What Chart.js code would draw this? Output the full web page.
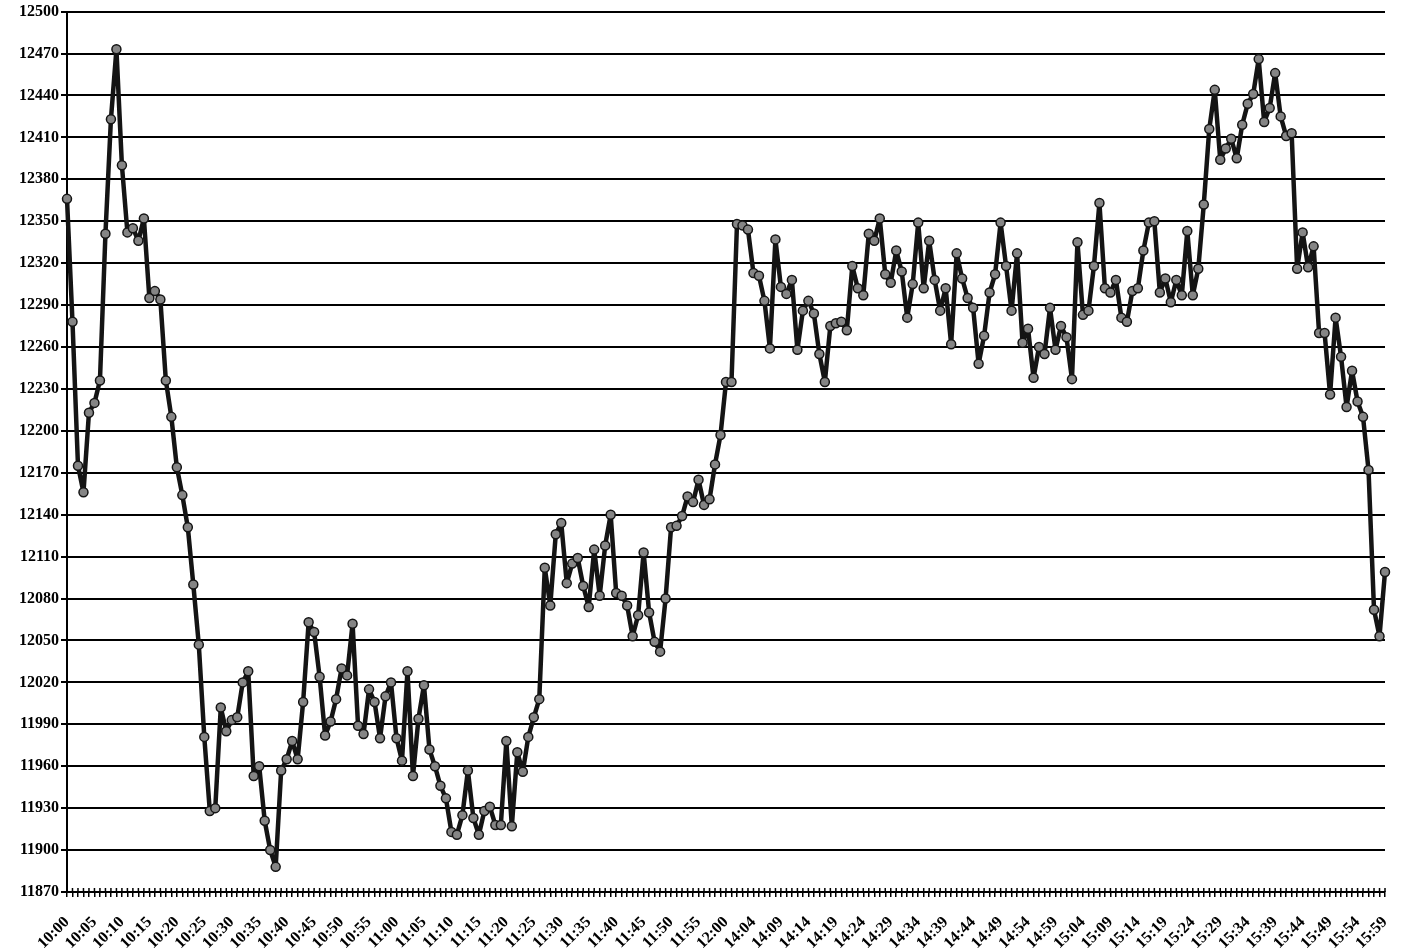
<!DOCTYPE html>
<html>
<head>
<meta charset="utf-8">
<script src="https://cdn.jsdelivr.net/npm/chart.js@4.4.0/dist/chart.umd.min.js"></script>
<style>
  html, body { margin: 0; padding: 0; background: #fff; }
  #wrap { width: 1401px; height: 950px; }
</style>
</head>
<body>
<div id="wrap"><canvas id="cotacao"></canvas></div>
<script>

// morning session 10:00 - 12:00, one value per minute
var valores_manha = [
    12366, 12278, 12175, 12156, 12213, 12220, 12236, 12341, 12423, 12473,
    12390, 12342, 12345, 12336, 12352, 12295, 12300, 12294, 12236, 12210,
    12174, 12154, 12131, 12090, 12047, 11981, 11928, 11930, 12002, 11985,
    11993, 11995, 12020, 12028, 11953, 11960, 11921, 11900, 11888, 11957,
    11965, 11978, 11965, 12006, 12063, 12056, 12024, 11982, 11992, 12008,
    12030, 12025, 12062, 11989, 11983, 12015, 12006, 11980, 12010, 12020,
    11980, 11964, 12028, 11953, 11994, 12018, 11972, 11960, 11946, 11937,
    11913, 11911, 11925, 11957, 11923, 11911, 11928, 11931, 11918, 11918,
    11978, 11917, 11970, 11956, 11981, 11995, 12008, 12102, 12075, 12126,
    12134, 12091, 12105, 12109, 12089, 12074, 12115, 12082, 12118, 12140,
    12084, 12082, 12075, 12053, 12068, 12113, 12070, 12049, 12042, 12080,
    12131, 12132, 12139, 12153, 12149, 12165, 12147, 12151, 12176, 12197,
    12235
];

// afternoon session 14:00 - 15:59
var valores_tarde = [
    12235, 12348, 12347, 12344, 12313, 12311, 12293, 12259, 12337,
    12303, 12298, 12308, 12258, 12286, 12293, 12284, 12255, 12235, 12275,
    12277, 12278, 12272, 12318, 12302, 12297, 12341, 12336, 12352, 12312,
    12306, 12329, 12314, 12281, 12305, 12349, 12302, 12336, 12308, 12286,
    12302, 12262, 12327, 12309, 12295, 12288, 12248, 12268, 12299, 12312,
    12349, 12318, 12286, 12327, 12263, 12273, 12238, 12260, 12255, 12288,
    12258, 12275, 12267, 12237, 12335, 12283, 12286, 12318, 12363, 12302,
    12299, 12308, 12281, 12278, 12300, 12302, 12329, 12349, 12350, 12299,
    12309, 12292, 12308, 12297, 12343, 12297, 12316, 12362, 12416, 12444,
    12394, 12402, 12409, 12395, 12419, 12434, 12441, 12466, 12421, 12431,
    12456, 12425, 12411, 12413, 12316, 12342, 12317, 12332, 12270, 12270,
    12226, 12281, 12253, 12217, 12243, 12221, 12210, 12172, 12072, 12053,
    12099
];

// labels written under the axis
var rotulos_x = [
    '10:00', '10:05', '10:10', '10:15', '10:20', '10:25', '10:30', '10:35', '10:40',
    '10:45', '10:50', '10:55', '11:00', '11:05', '11:10', '11:15', '11:20', '11:25',
    '11:30', '11:35', '11:40', '11:45', '11:50', '11:55', '12:00',
    '14:04', '14:09', '14:14', '14:19', '14:24', '14:29', '14:34', '14:39', '14:44',
    '14:49', '14:54', '14:59', '15:04', '15:09', '15:14', '15:19', '15:24', '15:29',
    '15:34', '15:39', '15:44', '15:49', '15:54', '15:59'
];

var eixo_y_min = 11870;
var eixo_y_max = 12500;
var eixo_y_passo = 30;

function horarios(hora, minuto, quantidade) {
    var lista = [];
    for (var k = 0; k < quantidade; k++) {
        var m = hora * 60 + minuto + k;
        lista.push(Math.floor(m / 60) + ':' + String(m % 60).padStart(2, '0'));
    }
    return lista;
}

var categorias = horarios(10, 0, valores_manha.length).concat(horarios(14, 0, valores_tarde.length));
var serie = valores_manha.concat(valores_tarde);

// upper half of the cross tick marks on the x axis
const marcas_cruzadas = {
    id: 'marcas_cruzadas',
    beforeDatasetsDraw(chart) {
        const ctx = chart.ctx;
        const x = chart.scales.x;
        ctx.save();
        ctx.strokeStyle = '#000';
        ctx.lineWidth = 1.5;
        ctx.beginPath();
        for (let i = 0; i < x.ticks.length; i++) {
            const px = x.getPixelForTick(i);
            ctx.moveTo(px, x.top - 4);
            ctx.lineTo(px, x.top);
        }
        ctx.stroke();
        ctx.restore();
    }
};

Chart.defaults.font.family = '"Liberation Serif", "DejaVu Serif", serif';
Chart.defaults.font.weight = 'bold';
Chart.defaults.color = '#000';

const grafico = document.getElementById('cotacao');

var myChart = new Chart(grafico, {
    type: 'line',
    data: {
        labels: categorias,
        datasets: [{
            data: serie,
            borderColor: '#141414',
            borderWidth: 4.5,
            borderJoinStyle: 'round',
            borderCapStyle: 'round',
            tension: 0,
            pointRadius: 4.5,
            pointHoverRadius: 4.5,
            pointBackgroundColor: '#858585',
            pointBorderColor: '#141414',
            pointBorderWidth: 1.5
        }]
    },
    options: {
        responsive: true,
        maintainAspectRatio: false,
        animation: false,
        layout: { padding: { top: 10, right: 16, left: 0, bottom: 0 } },
        plugins: {
            legend: { display: false },
            tooltip: { enabled: false }
        },
        scales: {
            x: {
                offset: false,
                afterFit: function (scale) {
                    scale.height = 58;
                    scale.paddingLeft = 0;
                    scale.paddingRight = 0;
                },
                border: { color: '#000', width: 2 },
                grid: {
                    drawOnChartArea: false,
                    drawTicks: true,
                    tickLength: 5,
                    color: '#000',
                    lineWidth: 1.5
                },
                ticks: {
                    autoSkip: false,
                    minRotation: 45,
                    maxRotation: 45,
                    padding: 16,
                    font: { size: 16, weight: 'bold' },
                    callback: function (valor) {
                        var rotulo = this.getLabelForValue(valor);
                        return rotulos_x.includes(rotulo) ? rotulo : '';
                    }
                }
            },
            y: {
                min: eixo_y_min,
                max: eixo_y_max,
                afterFit: function (scale) { scale.width = 67; },
                border: { color: '#000', width: 2 },
                grid: {
                    color: '#000',
                    lineWidth: 2,
                    tickLength: 6
                },
                ticks: {
                    stepSize: eixo_y_passo,
                    padding: 2,
                    font: { size: 16, weight: 'bold' },
                    callback: function (valor) { return String(valor); }
                }
            }
        }
    },
    plugins: [marcas_cruzadas]
});
</script>
</body>
</html>
